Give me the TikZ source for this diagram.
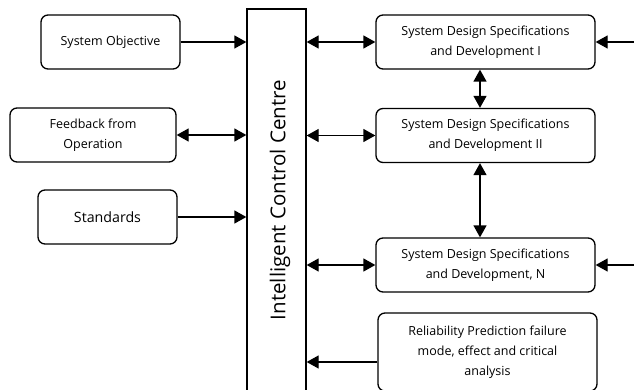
\documentclass[tikz,border=0pt]{standalone}
\usepackage{fontspec}
\setmainfont{Open Sans}
\usetikzlibrary{arrows.meta,positioning}

\begin{document}
\begin{tikzpicture}[
    x=1pt, y=-1pt,
    every node/.style={font=\fontsize{12.5}{20}\selectfont},
    box/.style={rectangle, draw, rounded corners=7pt, line width=1.3pt, align=center,
                inner sep=0pt, minimum height=54pt, minimum width=#1},
    box/.default=139pt,
    sds/.style={box=219pt},
    centre/.style={rectangle, draw, line width=1.3pt, minimum width=59pt, minimum height=382pt, inner sep=0pt},
    arr/.style={-{Triangle[length=12pt, width=13pt]}, line width=1.3pt},
    dblarr/.style={{Triangle[length=12pt, width=13pt]}-{Triangle[length=12pt, width=13pt]}, line width=1.3pt},
]
\useasboundingbox (0,0) rectangle (634,390);

% --- inputs on the left ---------------------------------------------
\node[box]       (objective) at (110.5, 42)  {System Objective};
\node[box=166pt] (feedback)  at (93,   135)  {Feedback from\\Operation};
\node[box, font=\fontsize{14.2}{20}\selectfont] (standards) at (107.5, 217) {Standards};

% --- control centre -------------------------------------------------
\node[centre] (icc) at (276.5, 200) {};
\node[rotate=90, font=\fontsize{20.5}{24}\selectfont] (icclabel) at (280, 200) {Intelligent Control Centre};

% --- design stages on the right -------------------------------------
\node[sds] (sds1) at (485.5, 42)  {System Design Specifications\\and Development I};
\node[sds] (sds2) at (485.5, 135.5) {System Design Specifications\\and Development II};
\node[sds] (sdsn) at (485.5, 265) {System Design Specifications\\and Development, N};
\node[sds, minimum height=78pt] (relia) at (487.5, 352)
      {Reliability Prediction failure\\mode, effect and critical\\analysis};

% --- free ends on the right border ----------------------------------
\coordinate (in1) at (634, 42);
\coordinate (inn) at (634, 265);

% --- left side connectors -------------------------------------------
\draw[arr]    (objective.east) -- (objective.east -| icc.west);
\draw[dblarr] (feedback.east)  -- (feedback.east -| icc.west);
\draw[arr]    (standards.east) -- (standards.east -| icc.west);

% --- right side connectors ------------------------------------------
\draw[dblarr] (sds1.west -| icc.east) -- (sds1.west);
\draw[dblarr] (sds2.west -| icc.east) -- (sds2.west);
\draw[dblarr] (sdsn.west -| icc.east) -- (sdsn.west);
\draw[arr]    (relia.west |- 0,362) -- (icc.east |- 0,362);

\draw[dblarr] (sds1.south -| 480,0) -- (sds2.north -| 480,0);
\draw[dblarr] (sds2.south -| 480,0) -- (sdsn.north -| 480,0);

\draw[arr] (in1) -- (sds1.east);
\draw[arr] (inn) -- (sdsn.east);
\end{tikzpicture}
\end{document}
